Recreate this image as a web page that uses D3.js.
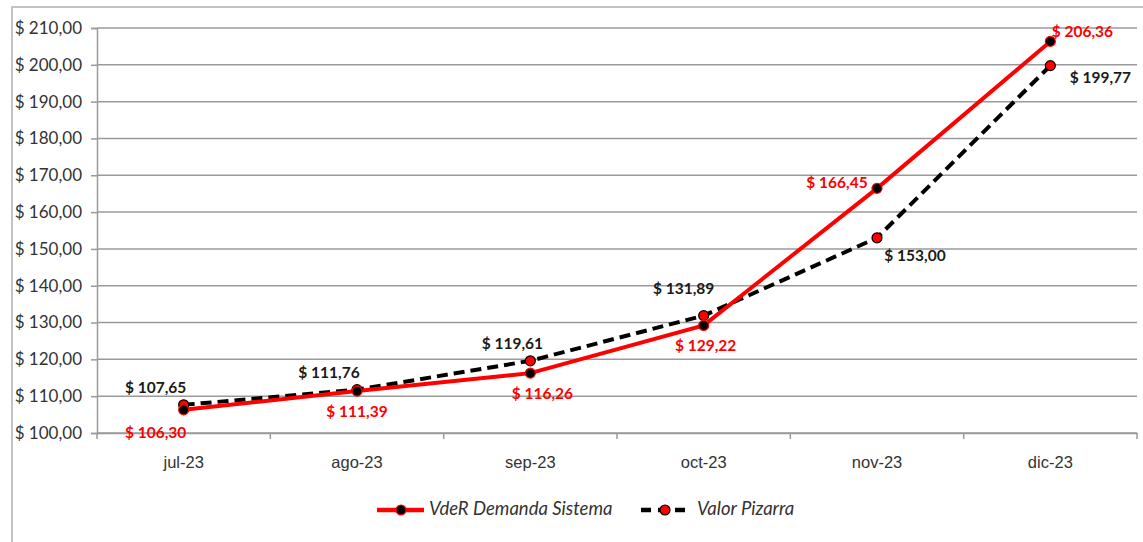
<!DOCTYPE html>
<html><head><meta charset="utf-8">
<script src="https://cdn.jsdelivr.net/npm/d3@7"></script>
<style>body{margin:0;background:#fff;} svg{display:block;font-family:Lato,"Open Sans",sans-serif;}</style>
</head><body>
<svg id="c" width="1143" height="542"></svg>
<script>
const categories = ["jul-23","ago-23","sep-23","oct-23","nov-23","dic-23"];
const vdeR = [106.30,111.39,116.26,129.22,166.45,206.36];
const pizarra = [107.65,111.76,119.61,131.89,153.00,199.77];
const yTicks = [100,110,120,130,140,150,160,170,180,190,200,210];
const seriesNames = ["VdeR Demanda Sistema","Valor Pizarra"];
// label offsets (dx, dy) relative to point
const vdeROff = [[-28,24],[0,22],[12,22],[2,22],[-40,-4],[32,-8]];
const pizOff = [[-28,-16],[-28,-16],[-18,-16],[-20,-26],[38,19],[50,13]];

const svg = d3.select("#c");
const m = {l:97, r:1137, t:28, b:433};
const x = d3.scaleBand().domain(categories).range([m.l,m.r]);
const y = d3.scaleLinear().domain([100,210]).range([m.b,m.t]);
const fmt = v => "$ " + v.toFixed(2).replace(".",",");

svg.append("rect").attr("x",12).attr("y",7).attr("width",1140).attr("height",560)
  .attr("fill","none").attr("stroke","#b0b0b0").attr("stroke-width",1.5);

// gridlines
svg.append("g").selectAll("line").data(yTicks).join("line")
  .attr("x1",m.l).attr("x2",m.r).attr("y1",d=>y(d)).attr("y2",d=>y(d))
  .attr("stroke","#9a9a9a").attr("stroke-width",1.5);

// y axis
const ya = svg.append("g").attr("transform",`translate(${m.l},0)`)
  .call(d3.axisLeft(y).tickValues(yTicks).tickSize(6).tickPadding(9).tickFormat(d=>fmt(d)));
ya.select(".domain").attr("stroke","#9a9a9a").attr("stroke-width",1.5);
ya.selectAll(".tick line").attr("stroke","#9a9a9a").attr("stroke-width",1.5);
ya.selectAll("text").attr("font-size",17).attr("fill","#333").attr("font-family","Lato");

// x axis
const xa = svg.append("g").attr("transform",`translate(0,${m.b})`)
  .call(d3.axisBottom(x).tickSize(0).tickPadding(23));
xa.select(".domain").attr("stroke","#9a9a9a").attr("stroke-width",1.5);
xa.selectAll("text").attr("font-size",16.5).attr("fill","#333");
xa.append("g").selectAll("line").data(categories.concat(["end"])).join("line")
  .attr("x1",(d,i)=>m.l+i*x.bandwidth()).attr("x2",(d,i)=>m.l+i*x.bandwidth())
  .attr("y1",0).attr("y2",6).attr("stroke","#9a9a9a").attr("stroke-width",1.5);

const cx = c => x(c)+x.bandwidth()/2;
const line = d3.line().x((d,i)=>cx(categories[i])).y(d=>y(d));

// pizarra dashed
svg.append("path").datum(pizarra).attr("d",line).attr("fill","none")
  .attr("stroke","#000").attr("stroke-width",4).attr("stroke-dasharray","11,6");
// vdeR solid
svg.append("path").datum(vdeR).attr("d",line).attr("fill","none")
  .attr("stroke","#ff0000").attr("stroke-width",4);

svg.append("g").selectAll("circle").data(pizarra).join("circle")
  .attr("cx",(d,i)=>cx(categories[i])).attr("cy",d=>y(d)).attr("r",5)
  .attr("fill","#ff0000").attr("stroke","#000").attr("stroke-width",1.2);
svg.append("g").selectAll("circle").data(vdeR).join("circle")
  .attr("cx",(d,i)=>cx(categories[i])).attr("cy",d=>y(d)).attr("r",5)
  .attr("fill","#000").attr("stroke","#ff0000").attr("stroke-width",1.2);

// labels
svg.append("g").selectAll("text").data(pizarra).join("text")
  .attr("x",(d,i)=>cx(categories[i])+pizOff[i][0]).attr("y",(d,i)=>y(d)+pizOff[i][1])
  .attr("text-anchor","middle").attr("dominant-baseline","middle")
  .attr("font-weight","bold").attr("font-size",15.5).attr("fill","#1a1a1a").text(d=>fmt(d));
svg.append("g").selectAll("text").data(vdeR).join("text")
  .attr("x",(d,i)=>cx(categories[i])+vdeROff[i][0]).attr("y",(d,i)=>y(d)+vdeROff[i][1])
  .attr("text-anchor","middle").attr("dominant-baseline","middle")
  .attr("font-weight","bold").attr("font-size",15.5).attr("fill","#ff0000").text(d=>fmt(d));

// legend
const lg = svg.append("g").attr("transform","translate(0,510)");
lg.append("line").attr("x1",377).attr("x2",424).attr("y1",0).attr("y2",0)
  .attr("stroke","#ff0000").attr("stroke-width",4.5);
lg.append("circle").attr("cx",401).attr("cy",0).attr("r",5).attr("fill","#000").attr("stroke","#ff0000").attr("stroke-width",1.2);
lg.append("text").attr("x",429).attr("y",0).attr("dominant-baseline","middle")
  .attr("font-style","italic").attr("font-size",18.5).attr("fill","#333").text(seriesNames[0]);
lg.append("line").attr("x1",641).attr("x2",690).attr("y1",0).attr("y2",0)
  .attr("stroke","#000").attr("stroke-width",4.5).attr("stroke-dasharray","10,7");
lg.append("circle").attr("cx",665).attr("cy",0).attr("r",5).attr("fill","#ff0000").attr("stroke","#000").attr("stroke-width",1.2);
lg.append("text").attr("x",697).attr("y",0).attr("dominant-baseline","middle")
  .attr("font-style","italic").attr("font-size",18.5).attr("fill","#333").text(seriesNames[1]);
</script>
</body></html>
